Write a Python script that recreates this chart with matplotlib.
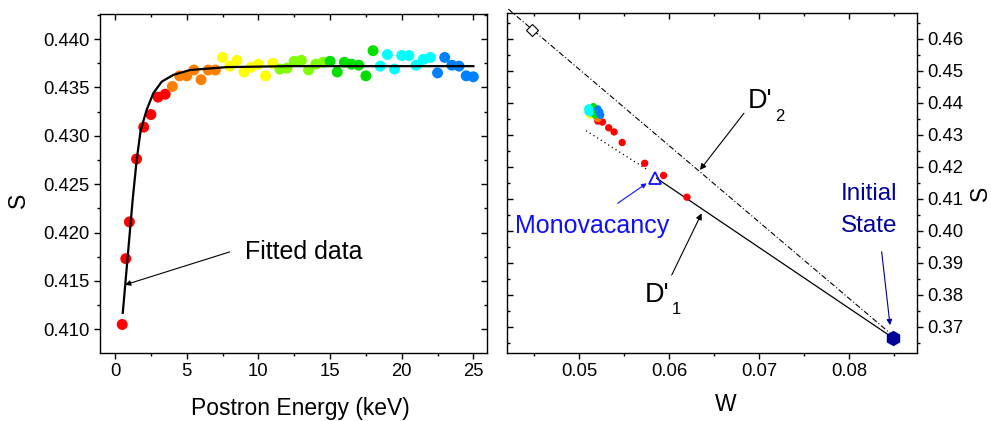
import matplotlib
matplotlib.use("Agg")
import matplotlib.pyplot as plt
from matplotlib.ticker import MultipleLocator, FormatStrFormatter
from matplotlib.transforms import offset_copy

# --- data
energy = [0.5, 0.75, 1.0, 1.5, 2.0, 2.5, 3.0, 3.5, 4.0, 4.5, 5.0, 5.5, 6.0, 6.5, 7.0,
          7.5, 8.0, 8.5, 9.0, 9.5, 10.0, 10.5, 11.0, 11.5, 12.0, 12.5, 13.0, 13.5, 14.0,
          14.5, 15.0, 15.5, 16.0, 16.5, 17.0, 17.5, 18.0, 18.5, 19.0, 19.5, 20.0, 20.5,
          21.0, 21.5, 22.0, 22.5, 23.0, 23.5, 24.0, 24.5, 25.0]
s_param = [0.4105, 0.4173, 0.4211, 0.4276, 0.4309, 0.4322, 0.4340, 0.4343, 0.4351, 0.4362,
           0.4362, 0.4368, 0.4358, 0.4368, 0.4368, 0.4381, 0.4372, 0.4378, 0.4366, 0.4371,
           0.4374, 0.4362, 0.4375, 0.4369, 0.4370, 0.4377, 0.4378, 0.4368, 0.4374, 0.4376,
           0.4377, 0.4366, 0.4376, 0.4374, 0.4373, 0.4362, 0.4388, 0.4372, 0.4384, 0.4369,
           0.4383, 0.4383, 0.4373, 0.4379, 0.4381, 0.4365, 0.4381, 0.4373, 0.4372, 0.4362,
           0.4361]
w_param = [0.0620, 0.0594, 0.0573, 0.0548, 0.0539, 0.0533, 0.0526, 0.0521,
           0.0521, 0.0522, 0.0521, 0.0520, 0.0519, 0.0519, 0.0518,
           0.0510, 0.0511, 0.0510, 0.0512, 0.0511, 0.0510, 0.0512, 0.0511,
           0.0513, 0.0514, 0.0512, 0.0513, 0.0514, 0.0512, 0.0513,
           0.0516, 0.0517, 0.0515, 0.0516, 0.0517, 0.0518, 0.0516,
           0.0510, 0.0511, 0.0512, 0.0510, 0.0511, 0.0512, 0.0510, 0.0511,
           0.0523, 0.0521, 0.0522, 0.0523, 0.0524, 0.0524]

# colour groups (upper energy of each group)
group_end = [3.5, 7.0, 11.0, 14.5, 18.0, 22.0, 25.0]
group_col = ["#ff0000", "#ff8000", "#ffff00", "#80ff00", "#00e000", "#00ffff", "#0080ff"]

# fitted curve
fit_e = [0.54, 0.9, 1.23, 1.51, 1.79, 2.21, 2.67, 3.26, 4.07, 5.23, 7.8, 12.0, 25.0]
fit_s = [0.4117, 0.4178, 0.4234, 0.4275, 0.4306, 0.4327, 0.4344, 0.4356, 0.4363, 0.4368,
         0.4371, 0.4372, 0.4372]

# S-W plot reference points / lines
mono_w, mono_s = 0.05844, 0.41661
init_w, init_s = 0.08492, 0.3665
diamond_w, diamond_s = 0.04474, 0.46282
d1_w = [0.05863, 0.08481]
d1_s = [0.41641, 0.36667]
d1_ext_w = [0.05078, 0.05752]
d1_ext_s = [0.43131, 0.41923]
d2_w = [0.04215, 0.08481]
d2_s = [0.46929, 0.36739]

cols = []
for e in energy:
    for end, c in zip(group_end, group_col):
        if e <= end:
            cols.append(c)
            break

plt.rcParams['font.family'] = ['Liberation Sans', 'DejaVu Sans']
plt.rcParams['axes.linewidth'] = 1.0

TICK = 13.3


def set_ticks(ax, xmaj, xmin, ymaj, ymin):
    ax.xaxis.set_major_locator(MultipleLocator(xmaj))
    ax.xaxis.set_minor_locator(MultipleLocator(xmin))
    ax.yaxis.set_major_locator(MultipleLocator(ymaj))
    ax.yaxis.set_minor_locator(MultipleLocator(ymin))
    ax.tick_params(which='major', length=4, width=1)
    ax.tick_params(which='minor', length=2.5, width=1)


def mirror(fig, ax):
    # overlay axes only for the inward mirrored ticks
    ov = fig.add_axes(ax.get_position(), frameon=False)
    ov.set_xlim(ax.get_xlim())
    ov.set_ylim(ax.get_ylim())
    ov.patch.set_visible(False)
    return ov


fig = plt.figure(figsize=(9.91, 4.21), dpi=100)
ax1 = fig.add_axes([0.1009, 0.1615, 0.3905, 0.805])
ax2 = fig.add_axes([0.5113, 0.1623, 0.4137, 0.8062])

# ---- left: S vs energy
ax1.scatter(energy, s_param, c=cols, s=62, edgecolors='none', zorder=3)
ax1.plot(fit_e, fit_s, color='k', lw=1.6, zorder=4)
ax1.annotate("", xy=(0.70, 0.4146), xytext=(8.0, 0.4180),
             arrowprops=dict(arrowstyle='-|>', color='k', lw=0.8, mutation_scale=8,
                             shrinkA=0, shrinkB=0))
ax1.text(9.07, 0.4173, "Fitted data", fontsize=18, va='baseline', ha='left')

ax1.set_xlim(-1.05, 25.95)
ax1.set_ylim(0.40755, 0.44258)
set_ticks(ax1, 5, 2.5, 0.005, 0.0025)
ax1.yaxis.set_major_formatter(FormatStrFormatter('%.3f'))
ax1.tick_params(which='both', direction='out', labelsize=TICK)

ov1 = mirror(fig, ax1)
set_ticks(ov1, 5, 2.5, 0.005, 0.0025)
ov1.tick_params(which='both', direction='in', top=True, right=True, bottom=False, left=False,
                labelbottom=False, labelleft=False)

ax1.set_xlabel("Postron Energy (keV)", fontsize=16.5)
ax1.set_ylabel("S", fontsize=16.5)
ax1.xaxis.set_label_coords(0.517, -0.13)
ax1.yaxis.set_label_coords(-0.182, 0.45)

# ---- right: S vs W
ax2.plot(d2_w, d2_s, color='k', lw=0.8, linestyle=(0, (5, 2, 1, 2)), clip_on=False, zorder=2)
ax2.plot(d1_w, d1_s, color='k', lw=0.9, zorder=2)
ax2.plot(d1_ext_w, d1_ext_s, color='k', lw=0.9, linestyle=(0, (1, 2.5)), zorder=2)
ax2.scatter(w_param, s_param, c=cols, s=28, edgecolors='none', zorder=3)
ax2.plot([diamond_w], [diamond_s], marker='D', ms=6.5, mfc='white', mec='k', mew=0.8,
         clip_on=False, zorder=4)
ax2.plot([mono_w], [mono_s], marker='^', ms=9, mfc='none', mec='#1010ff', mew=1.3, zorder=4)
ax2.plot([init_w], [init_s], marker='h', ms=10, color='#000099', zorder=4)

arrow_k = dict(arrowstyle='-|>', color='k', lw=0.8, mutation_scale=9, shrinkA=0, shrinkB=0)
ax2.annotate("", xy=(0.06344, 0.41901), xytext=(0.06833, 0.43675), arrowprops=arrow_k)
ax2.annotate("", xy=(0.06363, 0.40545), xytext=(0.0603, 0.38616), arrowprops=arrow_k)
ax2.annotate("", xy=(0.05752, 0.41485), xytext=(0.0543, 0.4086),
             arrowprops=dict(arrowstyle='-|>', color='#1010ff', lw=0.8, mutation_scale=7,
                             shrinkA=0, shrinkB=0))
ax2.annotate("", xy=(0.08456, 0.37051), xytext=(0.08363, 0.39345),
             arrowprops=dict(arrowstyle='-|>', color='#000099', lw=0.8, mutation_scale=8,
                             shrinkA=0, shrinkB=0))

ax2.text(0.06874, 0.43832, "D'", fontsize=19.5, va='baseline', ha='left')
ax2.text(0.06874, 0.43832, "2", fontsize=12, va='baseline', ha='left',
         transform=offset_copy(ax2.transData, fig=fig, x=19.5, y=-9, units='points'))
ax2.text(0.05726, 0.37781, "D'", fontsize=19.5, va='baseline', ha='left')
ax2.text(0.05726, 0.37781, "1", fontsize=12, va='baseline', ha='left',
         transform=offset_copy(ax2.transData, fig=fig, x=19.5, y=-9, units='points'))
ax2.text(0.04285, 0.3992, "Monovacancy", fontsize=18, color='#1010ff', va='baseline')
ax2.text(0.07911, 0.40962, "Initial", fontsize=17.5, color='#000099', va='baseline')
ax2.text(0.07911, 0.39971, "State", fontsize=17.5, color='#000099', va='baseline')

ax2.set_xlim(0.04197, 0.08752)
ax2.set_ylim(0.3619, 0.468)
set_ticks(ax2, 0.01, 0.005, 0.01, 0.005)
ax2.xaxis.set_major_formatter(FormatStrFormatter('%.2f'))
ax2.yaxis.set_major_formatter(FormatStrFormatter('%.2f'))
ax2.yaxis.tick_right()
ax2.yaxis.set_label_position('right')
ax2.tick_params(which='both', direction='out', labelsize=TICK)

ov2 = mirror(fig, ax2)
set_ticks(ov2, 0.01, 0.005, 0.01, 0.005)
ov2.tick_params(which='both', direction='in', top=True, left=True, bottom=False, right=False,
                labelbottom=False, labelleft=False)

ax2.set_xlabel("W", fontsize=16.5)
ax2.set_ylabel("S", fontsize=16.5)
ax2.xaxis.set_label_coords(0.535, -0.12)
ax2.yaxis.set_label_coords(1.128, 0.47)

fig.savefig("out.png", dpi=100)
